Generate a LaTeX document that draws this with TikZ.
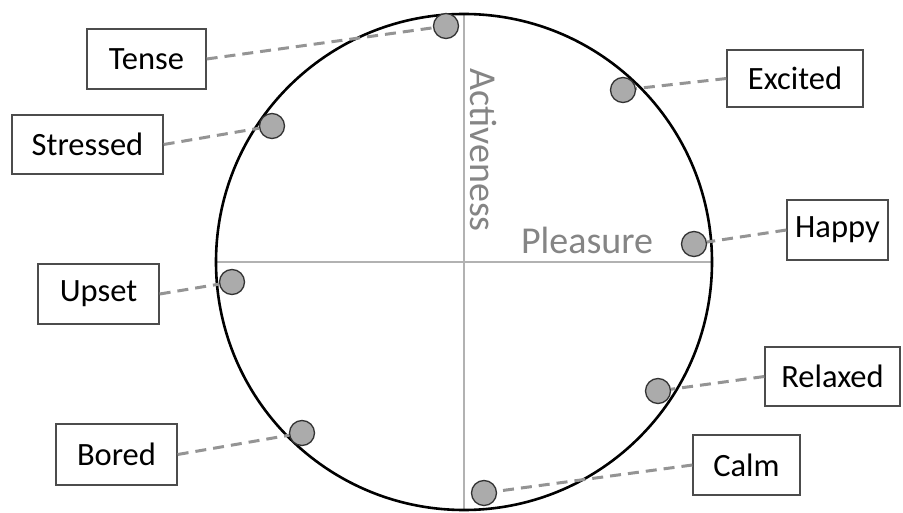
\documentclass[tikz,border=0pt]{standalone}
\usepackage{fontspec}
\setmainfont{Carlito}
\begin{document}
\begin{tikzpicture}[x=1pt,y=-1pt,
  lbl/.style={draw=black!70,line width=1.3pt,fill=white,inner sep=0pt,font=\fontsize{32.5}{38}\selectfont},
  dot/.style={circle,draw=black!80,line width=1.3pt,fill=black!33,minimum size=25pt,inner sep=0pt},
  conn/.style={draw=black!42,line width=3pt,dash pattern=on 11pt off 7pt},
  axis/.style={draw=black!30,line width=1.8pt},
  axlbl/.style={text=black!48,font=\fontsize{38}{44}\selectfont,inner sep=0pt}]
\useasboundingbox (0,0) rectangle (903,513);
\coordinate (c) at (464,262);
\coordinate (top) at (464,14);
\coordinate (bot) at (464,510);
\coordinate (lft) at (216,262);
\coordinate (rgt) at (712,262);
\draw[axis] (top) -- (bot);
\draw[axis] (lft) -- (rgt);
\draw[line width=2.6pt] (c) circle (248);
\node[axlbl,rotate=-90] (act) at (483,150) {Activeness};
\node[axlbl,anchor=base] (ple) at (587,254) {Pleasure};
% labels
\node[lbl,minimum width=119pt,minimum height=60pt] (tense) at (146.5,59) {Tense};
\node[lbl,minimum width=151pt,minimum height=59pt] (stressed) at (87.5,144.5) {Stressed};
\node[lbl,minimum width=136pt,minimum height=57pt] (excited) at (795,78.5) {Excited};
\node[lbl,minimum width=101pt,minimum height=60pt] (happy) at (837.5,230) {Happy};
\node[lbl,minimum width=121pt,minimum height=60pt] (upset) at (98.5,294) {Upset};
\node[lbl,minimum width=121pt,minimum height=61pt] (bored) at (116.5,454.5) {Bored};
\node[lbl,minimum width=135pt,minimum height=59pt] (relaxed) at (832.5,376.5) {Relaxed};
\node[lbl,minimum width=107pt,minimum height=60pt] (calm) at (746.5,465) {Calm};
% dots
\node[dot] (dtense) at (446,26) {};
\node[dot] (dstressed) at (272,126) {};
\node[dot] (dexcited) at (623,90) {};
\node[dot] (dhappy) at (694,244) {};
\node[dot] (dupset) at (232,282) {};
\node[dot] (dbored) at (302,433) {};
\node[dot] (drelaxed) at (658,391) {};
\node[dot] (dcalm) at (484,493) {};
% connectors
\draw[conn] (tense.east) -- (dtense);
\draw[conn] (stressed.east) -- (dstressed);
\draw[conn] (excited.west) -- (dexcited);
\draw[conn] (happy.west) -- (dhappy);
\draw[conn] (upset.east) -- (dupset);
\draw[conn] (bored.east) -- (dbored);
\draw[conn] (relaxed.west) -- (drelaxed);
\draw[conn] (calm.west) -- (dcalm);
\end{tikzpicture}
\end{document}
